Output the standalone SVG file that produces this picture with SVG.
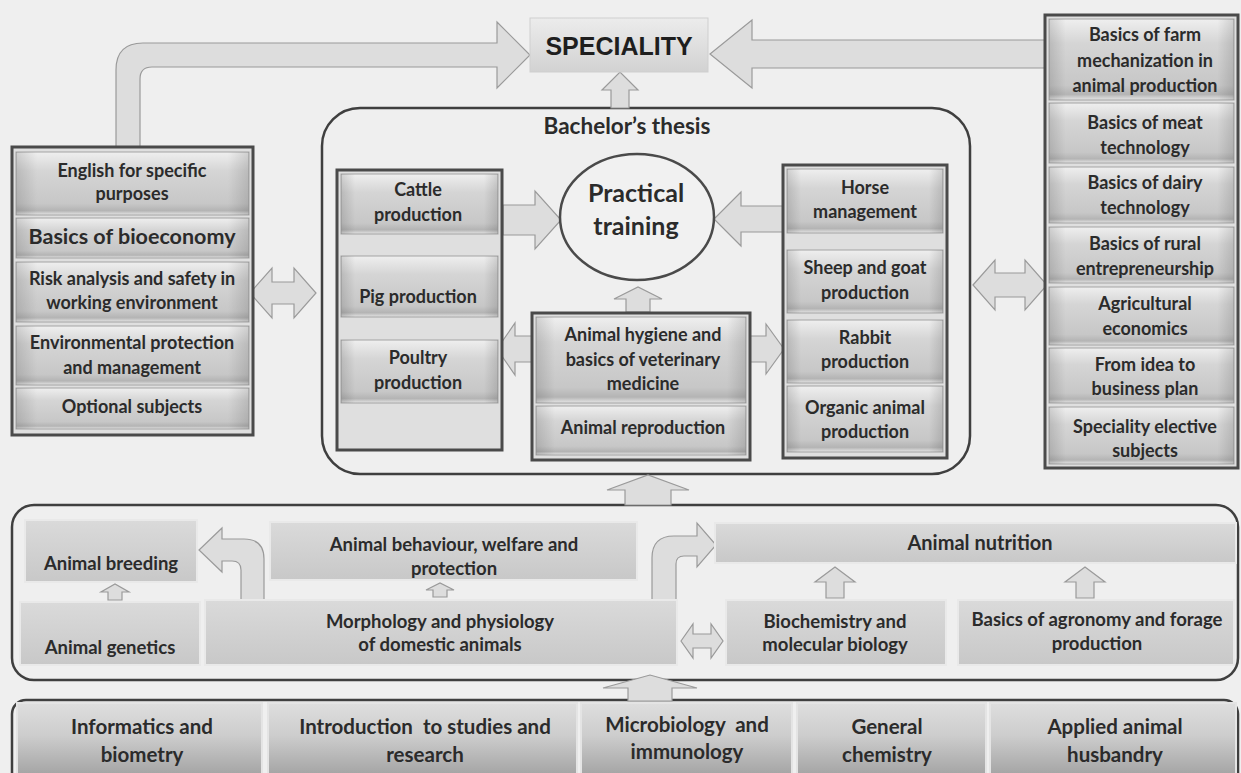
<svg xmlns="http://www.w3.org/2000/svg" width="1241" height="773" viewBox="0 0 1241 773">
<defs>
<linearGradient id="gItem" x1="0" y1="0" x2="0" y2="1">
<stop offset="0" stop-color="#efefef"/>
<stop offset="0.3" stop-color="#d5d5d5"/>
<stop offset="0.82" stop-color="#c7c7c7"/>
<stop offset="0.93" stop-color="#b4b4b4"/>
<stop offset="1" stop-color="#e6e6e6"/>
</linearGradient>
<linearGradient id="gSide" x1="0" y1="0" x2="1" y2="0">
<stop offset="0" stop-color="#000" stop-opacity="0.13"/>
<stop offset="0.09" stop-color="#000" stop-opacity="0"/>
<stop offset="0.91" stop-color="#000" stop-opacity="0"/>
<stop offset="1" stop-color="#000" stop-opacity="0.13"/>
</linearGradient>
<linearGradient id="gFlat" x1="0" y1="0" x2="0" y2="1">
<stop offset="0" stop-color="#dadada"/>
<stop offset="1" stop-color="#c8c8c8"/>
</linearGradient>
<linearGradient id="gBot" x1="0" y1="0" x2="0" y2="1">
<stop offset="0" stop-color="#dedede"/>
<stop offset="0.45" stop-color="#cdcdcd"/>
<stop offset="1" stop-color="#a4a4a4"/>
</linearGradient>
<linearGradient id="gSpec" x1="0" y1="0" x2="0" y2="1">
<stop offset="0" stop-color="#ececec"/>
<stop offset="1" stop-color="#d2d2d2"/>
</linearGradient>
<style>
.bg{fill:#efefef}
.col{fill:#dfdfdf;stroke:#4a4a4a;stroke-width:3}
.item{fill:url(#gItem);stroke:#a3a3a3;stroke-width:1}
.side{fill:url(#gSide)}
.flat{fill:url(#gFlat);stroke:#e9e9e9;stroke-width:2}
.bot{fill:url(#gBot);stroke:#e4e4e4;stroke-width:2}
.frame{fill:none;stroke:#3f3f3f;stroke-width:2.5}
.arr{fill:#dddddd;stroke:#9a9a9a;stroke-width:1.2}
.t{font-family:Lato,"Open Sans","Liberation Sans",sans-serif;font-weight:700;fill:#2b2b2b;text-anchor:middle;font-size:18px}
.m{font-size:18.5px}
.b{font-size:20.5px}
</style>
</defs>
<rect class="bg" x="0" y="0" width="1241" height="773"/>

<g id="frames">
<rect class="frame" x="322" y="108" width="648" height="366" rx="38"/>
<rect class="frame" x="12" y="505" width="1226" height="175" rx="22"/>
<rect class="frame" x="12" y="700" width="1226" height="90" rx="14"/>
</g>

<g id="connectors">
<path class="arr" d="M116,147 L116,70 Q116,43 143,43 L497,43 L497,22 L530,55 L497,88 L497,67 L152,67 Q140,67 140,79 L140,147 Z"/>
<path class="arr" d="M1045,40 L752,40 L752,20 L710,54 L752,88 L752,68 L1045,68 Z"/>
<path class="arr" d="M611,108 L611,90 L602,90 L620,72 L638,90 L629,90 L629,108 Z"/>
<path class="arr" d="M250,293 L272,268 L272,282 L294,282 L294,268 L316,293 L294,318 L294,304 L272,304 L272,318 Z"/>
<path class="arr" d="M503,205 L535,205 L535,191 L561,220 L535,249 L535,235 L503,235 Z"/>
<path class="arr" d="M784,206 L741,206 L741,192 L714,219 L741,246 L741,232 L784,232 Z"/>
<path class="arr" d="M626,312 L626,299 L614,299 L638,287 L662,299 L650,299 L650,312 Z"/>
<path class="arr" d="M533,336 L515,336 L515,323 L497,349 L515,375 L515,362 L533,362 Z"/>
<path class="arr" d="M750,336 L766,336 L766,324 L784,349 L766,374 L766,362 L750,362 Z"/>
<path class="arr" d="M973,285 L995,260 L995,273 L1025,273 L1025,260 L1047,285 L1025,310 L1025,297 L995,297 L995,310 Z"/>
<path class="arr" d="M625,505 L625,490 L607,490 L648,475 L689,490 L671,490 L671,505 Z"/>
<path class="arr" d="M108,600 L108,592 L101,592 L115,584 L129,592 L122,592 L122,600 Z"/>
<path class="arr" d="M433,597 L433,590 L426,590 L440,583 L454,590 L447,590 L447,597 Z"/>
<path class="arr" d="M241,600 L241,570 Q241,561 232,561 L222,561 L222,572 L199,550 L222,528 L222,539 L244,539 Q264,539 264,559 L264,600 Z"/>
<path class="arr" d="M652,600 L652,558 Q652,536 674,536 L697,536 L697,523 L716,545 L697,567 L697,556 L684,556 Q676,556 676,564 L676,600 Z"/>
<path class="arr" d="M826,598 L826,582 L815,582 L835,567 L855,582 L844,582 L844,598 Z"/>
<path class="arr" d="M1076,598 L1076,582 L1065,582 L1085,567 L1105,582 L1094,582 L1094,598 Z"/>
<path class="arr" d="M681,641 L693,624 L693,634 L711,634 L711,624 L723,641 L711,658 L711,648 L693,648 L693,658 Z"/>
<path class="arr" d="M628,701 L628,688 L603,688 L650,675 L697,688 L672,688 L672,701 Z"/>
</g>

<g id="speciality">
<rect x="530" y="18" width="178" height="54" fill="url(#gSpec)" stroke="#cfcfcf" stroke-width="1"/>
<text x="619" y="55" style="font-family:'Liberation Sans',Arial,sans-serif;font-weight:700;font-size:25px;fill:#1e1e1e;text-anchor:middle">SPECIALITY</text>
</g>

<g id="left-column">
<rect class="col" x="12" y="147" width="241" height="288"/>
<rect class="item" x="16" y="152" width="233" height="63"/><rect class="side" x="16" y="152" width="233" height="63"/>
<rect class="item" x="16" y="218" width="233" height="40"/><rect class="side" x="16" y="218" width="233" height="40"/>
<rect class="item" x="16" y="262" width="233" height="60"/><rect class="side" x="16" y="262" width="233" height="60"/>
<rect class="item" x="16" y="326" width="233" height="59"/><rect class="side" x="16" y="326" width="233" height="59"/>
<rect class="item" x="16" y="388" width="233" height="41"/><rect class="side" x="16" y="388" width="233" height="41"/>
<text class="t" x="132" y="177">English for specific</text>
<text class="t" x="132" y="200">purposes</text>
<text class="t" x="132" y="244" style="font-size:21.5px">Basics of bioeconomy</text>
<text class="t" x="132" y="285">Risk analysis and safety in</text>
<text class="t" x="132" y="309">working environment</text>
<text class="t" x="132" y="349">Environmental protection</text>
<text class="t" x="132" y="374">and management</text>
<text class="t" x="132" y="413">Optional subjects</text>
</g>

<g id="bachelor-thesis">
<text class="t" x="627" y="134" style="font-size:22.5px">Bachelor’s thesis</text>
</g>

<g id="practical-training">
<ellipse cx="637" cy="217" rx="77" ry="63" fill="#f1f1f1" stroke="#4a4a4a" stroke-width="2.5"/>
<text class="t" x="636" y="202" style="font-size:25px">Practical</text>
<text class="t" x="636" y="235" style="font-size:25px">training</text>
</g>

<g id="species-left">
<rect class="col" x="337" y="170" width="165" height="280"/>
<rect class="item" x="341" y="174" width="157" height="60"/><rect class="side" x="341" y="174" width="157" height="60"/>
<rect class="item" x="341" y="256" width="157" height="61"/><rect class="side" x="341" y="256" width="157" height="61"/>
<rect class="item" x="341" y="340" width="157" height="63"/><rect class="side" x="341" y="340" width="157" height="63"/>
<text class="t" x="418" y="196">Cattle</text>
<text class="t" x="418" y="221">production</text>
<text class="t" x="418" y="303">Pig production</text>
<text class="t" x="418" y="364">Poultry</text>
<text class="t" x="418" y="389">production</text>
</g>

<g id="hygiene">
<rect class="col" x="532" y="313" width="218" height="147"/>
<rect class="item" x="536" y="317" width="210" height="86"/><rect class="side" x="536" y="317" width="210" height="86"/>
<rect class="item" x="536" y="406" width="210" height="49"/><rect class="side" x="536" y="406" width="210" height="49"/>
<text class="t" x="643" y="341">Animal hygiene and</text>
<text class="t" x="643" y="366">basics of veterinary</text>
<text class="t" x="643" y="390">medicine</text>
<text class="t" x="643" y="434">Animal reproduction</text>
</g>

<g id="species-right">
<rect class="col" x="783" y="165" width="164" height="293"/>
<rect class="item" x="787" y="169" width="156" height="64"/><rect class="side" x="787" y="169" width="156" height="64"/>
<rect class="item" x="787" y="250" width="156" height="63"/><rect class="side" x="787" y="250" width="156" height="63"/>
<rect class="item" x="787" y="320" width="156" height="63"/><rect class="side" x="787" y="320" width="156" height="63"/>
<rect class="item" x="787" y="386" width="156" height="66"/><rect class="side" x="787" y="386" width="156" height="66"/>
<text class="t" x="865" y="194">Horse</text>
<text class="t" x="865" y="218">management</text>
<text class="t" x="865" y="274">Sheep and goat</text>
<text class="t" x="865" y="299">production</text>
<text class="t" x="865" y="344">Rabbit</text>
<text class="t" x="865" y="368">production</text>
<text class="t" x="865" y="414">Organic animal</text>
<text class="t" x="865" y="438">production</text>
</g>

<g id="right-column">
<rect class="col" x="1045" y="15" width="193" height="453"/>
<rect class="item" x="1049" y="19" width="185" height="81"/><rect class="side" x="1049" y="19" width="185" height="81"/>
<rect class="item" x="1049" y="103" width="185" height="60"/><rect class="side" x="1049" y="103" width="185" height="60"/>
<rect class="item" x="1049" y="167" width="185" height="56"/><rect class="side" x="1049" y="167" width="185" height="56"/>
<rect class="item" x="1049" y="227" width="185" height="56"/><rect class="side" x="1049" y="227" width="185" height="56"/>
<rect class="item" x="1049" y="287" width="185" height="58"/><rect class="side" x="1049" y="287" width="185" height="58"/>
<rect class="item" x="1049" y="348" width="185" height="55"/><rect class="side" x="1049" y="348" width="185" height="55"/>
<rect class="item" x="1049" y="407" width="185" height="57"/><rect class="side" x="1049" y="407" width="185" height="57"/>
<text class="t" x="1145" y="41">Basics of farm</text>
<text class="t" x="1145" y="67">mechanization in</text>
<text class="t" x="1145" y="92">animal production</text>
<text class="t" x="1145" y="129">Basics of meat</text>
<text class="t" x="1145" y="154">technology</text>
<text class="t" x="1145" y="189">Basics of dairy</text>
<text class="t" x="1145" y="214">technology</text>
<text class="t" x="1145" y="250">Basics of rural</text>
<text class="t" x="1145" y="275">entrepreneurship</text>
<text class="t" x="1145" y="310">Agricultural</text>
<text class="t" x="1145" y="335">economics</text>
<text class="t" x="1145" y="371">From idea to</text>
<text class="t" x="1145" y="395">business plan</text>
<text class="t" x="1145" y="433">Speciality elective</text>
<text class="t" x="1145" y="457">subjects</text>
</g>

<g id="animal-breeding">
<rect class="flat" x="25" y="520" width="172" height="62"/>
<text class="t m" x="111" y="570">Animal breeding</text>
</g>
<g id="animal-behaviour">
<rect class="flat" x="270" y="522" width="367" height="58"/>
<text class="t m" x="454" y="551">Animal behaviour, welfare and</text>
<text class="t m" x="454" y="575">protection</text>
</g>
<g id="animal-genetics">
<rect class="flat" x="20" y="602" width="180" height="63"/>
<text class="t m" x="110" y="654">Animal genetics</text>
</g>
<g id="morphology">
<rect class="flat" x="205" y="600" width="472" height="65"/>
<text class="t m" x="440" y="628">Morphology and physiology</text>
<text class="t m" x="440" y="651">of domestic animals</text>
</g>
<g id="animal-nutrition">
<rect class="flat" x="715" y="523" width="521" height="40"/>
<text class="t" x="980" y="550" style="font-size:20px">Animal nutrition</text>
</g>
<g id="biochemistry">
<rect class="flat" x="726" y="600" width="220" height="65"/>
<text class="t m" x="835" y="628">Biochemistry and</text>
<text class="t m" x="835" y="651">molecular biology</text>
</g>
<g id="agronomy">
<rect class="flat" x="958" y="600" width="276" height="65"/>
<text class="t m" x="1097" y="626">Basics of agronomy and forage</text>
<text class="t m" x="1097" y="650">production</text>
</g>

<g id="informatics">
<rect class="bot" x="17" y="703" width="245" height="72"/>
<text class="t b" x="142" y="734">Informatics and</text>
<text class="t b" x="142" y="762">biometry</text>
</g>
<g id="introduction">
<rect class="bot" x="268" y="703" width="309" height="72"/>
<text class="t b" x="425" y="734" xml:space="preserve">Introduction  to studies and</text>
<text class="t b" x="425" y="762">research</text>
</g>
<g id="microbiology">
<rect class="bot" x="581" y="703" width="211" height="72"/>
<text class="t b" x="687" y="732" xml:space="preserve">Microbiology  and</text>
<text class="t b" x="687" y="759">immunology</text>
</g>
<g id="general-chemistry">
<rect class="bot" x="797" y="703" width="189" height="72"/>
<text class="t b" x="887" y="734">General</text>
<text class="t b" x="887" y="762">chemistry</text>
</g>
<g id="applied-husbandry">
<rect class="bot" x="990" y="703" width="246" height="72"/>
<text class="t b" x="1115" y="734">Applied animal</text>
<text class="t b" x="1115" y="762">husbandry</text>
</g>
</svg>
